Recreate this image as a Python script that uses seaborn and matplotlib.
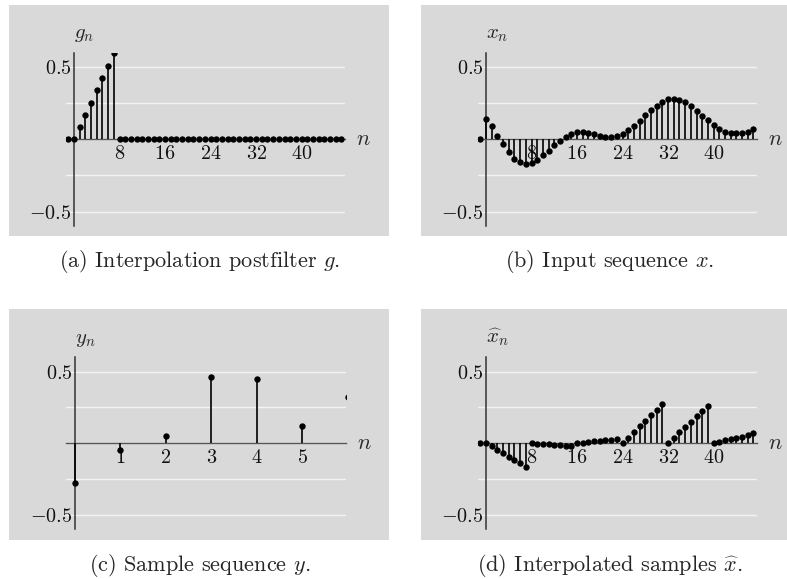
import matplotlib
matplotlib.use("Agg")
import matplotlib.pyplot as plt
import seaborn as sns
import numpy as np
import pandas as pd

# ---------------- data ----------------
n_long = list(range(-1, 48))
g_vals = [0.0, 0.0, 0.085, 0.17, 0.255, 0.34, 0.425, 0.51, 0.595,
          0, 0, 0, 0, 0, 0, 0, 0, 0, 0, 0, 0, 0, 0, 0, 0, 0, 0, 0, 0,
          0, 0, 0, 0, 0, 0, 0, 0, 0, 0, 0, 0, 0, 0, 0, 0, 0, 0, 0, 0]
x_vals = [0.0, 0.139, 0.091, 0.025, -0.034, -0.091, -0.134, -0.157, -0.168,
          -0.161, -0.141, -0.111, -0.080, -0.039, -0.011, 0.016, 0.034, 0.052,
          0.052, 0.045, 0.036, 0.023, 0.016, 0.016, 0.020, 0.039, 0.066, 0.095,
          0.130, 0.166, 0.200, 0.232, 0.261, 0.277, 0.277, 0.273, 0.257, 0.230,
          0.198, 0.164, 0.132, 0.102, 0.073, 0.052, 0.045, 0.045, 0.045, 0.052,
          0.075]
n_short = [0, 1, 2, 3, 4, 5, 6]
y_vals = [-0.279, -0.044, 0.051, 0.462, 0.447, 0.121, 0.32]
xhat_vals = [0.0, 0.0, -0.021, -0.048, -0.071, -0.094, -0.117, -0.140, -0.163,
             0.0, -0.003, -0.005, -0.008, -0.011, -0.014, -0.017, -0.020,
             0.0, 0.005, 0.009, 0.014, 0.017, 0.021, 0.025, 0.028,
             0.0, 0.039, 0.078, 0.122, 0.156, 0.195, 0.232, 0.271,
             0.0, 0.039, 0.078, 0.115, 0.147, 0.188, 0.222, 0.261,
             0.0, 0.009, 0.021, 0.030, 0.039, 0.046, 0.060, 0.071]

long_ticks = [8, 16, 24, 32, 40]
short_ticks = [1, 2, 3, 4, 5]
captions = [r"(a) Interpolation postfilter $g$.",
            r"(b) Input sequence $x$.",
            r"(c) Sample sequence $y$.",
            r"(d) Interpolated samples $\widehat{x}$."]
ylabels = [r"$g_n$", r"$x_n$", r"$y_n$", r"$\widehat{x}_n$"]

# ---------------- style ----------------
sns.set_theme(style="white")
plt.rcParams["font.family"] = ["cmr10", "DejaVu Serif"]
plt.rcParams["mathtext.fontset"] = "cm"
plt.rcParams["axes.formatter.use_mathtext"] = True
plt.rcParams["axes.unicode_minus"] = False

W, H = 787, 579
fig = plt.figure(figsize=(W / 100, H / 100), dpi=100)
fig.patch.set_facecolor("white")

GRAY = "#d9d9d9"
GRID = "#f3f3f3"


def px_rect(x0, y0, x1, y1):
    return [x0 / W, 1 - y1 / H, (x1 - x0) / W, (y1 - y0) / H]


bg_rects = [px_rect(9, 5, 389, 236), px_rect(421, 5, 787, 236),
            px_rect(9, 309, 389, 540), px_rect(421, 309, 787, 540)]
ax_rects = [px_rect(65.5, 52.7, 344.8, 226), px_rect(477.5, 52.7, 756.8, 226),
            px_rect(65.9, 357.3, 345.7, 529.3), px_rect(477.5, 357.3, 756.8, 529.3)]
caption_xy = [(200, 267), (610, 267), (200, 571), (610, 571)]

panels = [
    (n_long, g_vals, (-1.5, 47.6), long_ticks),
    (n_long, x_vals, (-1.5, 47.6), long_ticks),
    (n_short, y_vals, (-0.2, 5.95), short_ticks),
    (n_long, xhat_vals, (-1.5, 47.6), long_ticks),
]

for i, (n, v, xl, xt) in enumerate(panels):
    bg = fig.add_axes(bg_rects[i], zorder=0)
    bg.set_facecolor(GRAY)
    bg.set_xticks([])
    bg.set_yticks([])
    for s in bg.spines.values():
        s.set_visible(False)

    ax = fig.add_axes(ax_rects[i], zorder=1)
    ax.set_facecolor("none")
    ax.set_axisbelow(True)

    df = pd.DataFrame({"n": n, "v": v})
    ax.vlines(df["n"], 0, df["v"], color="black", lw=1.2, zorder=3)
    sns.scatterplot(data=df, x="n", y="v", ax=ax, color="black", s=21,
                    linewidth=0, zorder=4, legend=False, clip_on=True)

    ax.set_xlim(*xl)
    ax.set_ylim(-0.6, 0.6)
    ax.set_xlabel("")
    ax.set_ylabel("")
    for side in ["top", "right"]:
        ax.spines[side].set_visible(False)
    ax.spines["left"].set_position(("data", 0))
    ax.spines["bottom"].set_position(("data", 0))
    ax.spines["left"].set_color("#333333")
    ax.spines["bottom"].set_color("#555555")
    ax.spines["left"].set_linewidth(1.1)
    ax.spines["bottom"].set_linewidth(1.0)
    ax.spines["left"].set_zorder(2)
    ax.spines["bottom"].set_zorder(2)

    ax.set_yticks([-0.5, 0.5], labels=[r"$-0.5$", r"$0.5$"])
    ax.set_yticks([-0.25, 0, 0.25], minor=True)
    ax.set_xticks(xt, labels=[rf"${t}$" for t in xt])
    ax.grid(True, axis="y", which="both", color=GRID, lw=1.0)
    ax.grid(False, axis="x")
    ax.tick_params(axis="both", which="major", direction="in", length=3,
                   width=0.8, color="#333333", labelsize=14.5)
    ax.tick_params(axis="y", which="major", pad=2)
    ax.tick_params(axis="x", which="major", pad=4)
    ax.tick_params(axis="y", which="minor", length=0)
    for lab in ax.get_xticklabels() + ax.get_yticklabels():
        lab.set_color("#111111")

    ax.annotate(ylabels[i], xy=(0, 1), xycoords=("data", "axes fraction"),
                xytext=(0, 10.5), textcoords="offset points", ha="left",
                va="baseline", fontsize=15)
    ax.annotate(r"$n$", xy=(1, 0), xycoords=("axes fraction", "data"),
                xytext=(8, 0), textcoords="offset points", ha="left",
                va="center", fontsize=16)

    cx, cy = caption_xy[i]
    fig.text(cx / W, 1 - cy / H, captions[i], ha="center", va="baseline",
             fontsize=16)

fig.savefig("out.png", dpi=100)
